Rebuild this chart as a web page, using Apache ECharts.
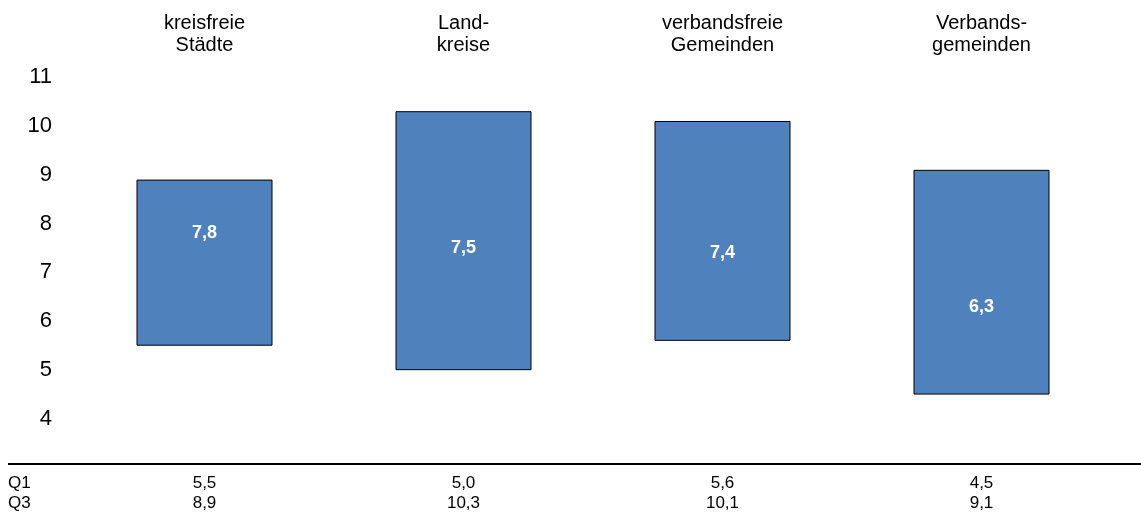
<!DOCTYPE html>
<html>
<head>
<meta charset="utf-8">
<script src="https://cdn.jsdelivr.net/npm/echarts@6/dist/echarts.min.js"></script>
<style>
  html, body { margin: 0; padding: 0; background: #fff; }
  #main { width: 1141px; height: 518px; }
</style>
</head>
<body>
<div id="main"></div>
<script>
// Kategorien (oben)
var categories = ['kreisfreie\nStädte', 'Land-\nkreise', 'verbandsfreie\nGemeinden', 'Verbands-\ngemeinden'];
// Quartile und Median
var q1 = [5.5, 5.0, 5.6, 4.5];
var q3 = [8.9, 10.3, 10.1, 9.1];
var median = [7.8, 7.5, 7.4, 6.3];
var yTicks = [4, 5, 6, 7, 8, 9, 10, 11];

function fmt(v) {
    return v.toFixed(1).replace('.', ',');
}

var chart = echarts.init(document.getElementById('main'));

var font = 'Liberation Sans, Arial, sans-serif';

// Tabelle unten: Q1 / Q3 je Kategorie
var tableLabels = [];
for (var i = 0; i < categories.length; i++) {
    tableLabels.push(fmt(q1[i]) + '\n' + fmt(q3[i]));
}

var option = {
    animation: false,
    grid: { left: 75, right: 30, top: 77, bottom: 99 },
    xAxis: [
        {
            type: 'category',
            position: 'top',
            data: categories,
            axisLine: { show: false },
            axisTick: { show: false },
            axisLabel: { color: '#000', fontSize: 20, fontFamily: font, lineHeight: 22, margin: 21 }
        },
        {
            type: 'category',
            position: 'bottom',
            data: tableLabels,
            axisLine: { show: false },
            axisTick: { show: false },
            axisLabel: { color: '#000', fontSize: 17, fontFamily: font, lineHeight: 20, margin: 54 }
        }
    ],
    yAxis: {
        type: 'value',
        min: yTicks[0],
        max: yTicks[yTicks.length - 1],
        interval: 1,
        axisLine: { show: false },
        axisTick: { show: false },
        splitLine: { show: false },
        axisLabel: { color: '#000', fontSize: 22, fontFamily: font, margin: 23 }
    },
    series: [
        {
            // unsichtbarer Sockel bis Q1
            type: 'bar',
            stack: 'box',
            data: q1,
            barWidth: 136,
            itemStyle: { color: 'transparent' },
            silent: true
        },
        {
            // Box Q1..Q3
            type: 'bar',
            stack: 'box',
            data: q3.map(function (v, i) { return +(v - q1[i]).toFixed(2); }),
            barWidth: 136,
            itemStyle: { color: '#4F81BD', borderColor: '#000', borderWidth: 1 }
        },
        {
            // Median als Beschriftung
            type: 'scatter',
            data: median,
            symbolSize: 1,
            itemStyle: { color: 'transparent', opacity: 1 },
            label: {
                show: true,
                position: 'inside',
                color: '#fff',
                opacity: 1,
                fontWeight: 'bold',
                fontSize: 18,
                fontFamily: font,
                formatter: function (p) { return fmt(p.value); }
            }
        }
    ],
    graphic: [
        {
            type: 'line',
            shape: { x1: 8, y1: 464, x2: 1141, y2: 464 },
            style: { stroke: '#000', lineWidth: 2 }
        },
        {
            type: 'text',
            left: 8,
            top: 473,
            style: { text: 'Q1\nQ3', fill: '#000', font: '17px ' + font, lineHeight: 20 }
        }
    ]
};

chart.setOption(option);
</script>
</body>
</html>
